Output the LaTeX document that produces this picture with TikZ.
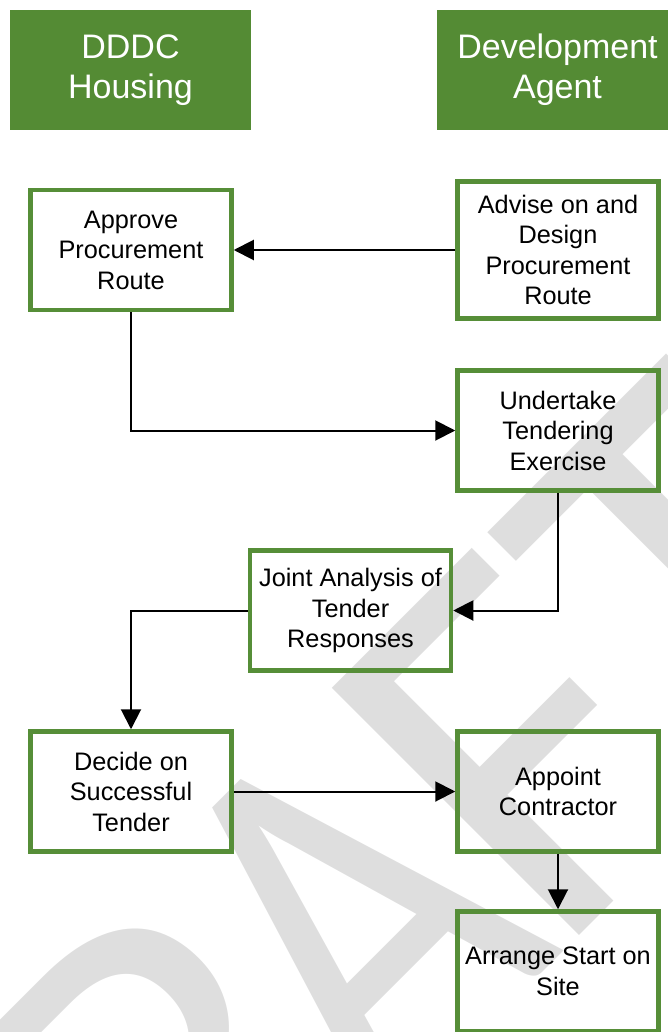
\documentclass[tikz,border=0pt]{standalone}
\usepackage{fontspec}
\setmainfont{Liberation Sans}
\newfontfamily\wmfont{Carlito}
\usetikzlibrary{arrows.meta}
\definecolor{hdrgreen}{RGB}{84,139,52}
\definecolor{boxgreen}{RGB}{86,142,56}
\definecolor{wmgray}{RGB}{222,222,222}
\begin{document}
\begin{tikzpicture}[x=1pt,y=-1pt,
  header/.style={fill=hdrgreen, draw=none, minimum width=241pt, minimum height=120pt,
    inner sep=0pt, text=white, align=center, font=\fontsize{34}{40}\selectfont},
  stepbox/.style={draw=boxgreen, line width=4.5pt, minimum width=201pt, minimum height=120pt,
    inner sep=0pt, align=center, font=\fontsize{25.3}{30.5}\selectfont},
  flow/.style={line width=2pt, draw=black, -{Triangle[length=20pt,width=20pt]}},
  watermark/.style={rotate=45, anchor=base west, inner sep=0pt, text=wmgray,
    font=\wmfont\fontsize{545}{545}\selectfont}]
\useasboundingbox (0,0) rectangle (668,1032);
\clip (0,0) rectangle (668,1032);
% watermark "DRAFT", letters set along a 45 degree baseline
\node[watermark] (wmD) at (-41.1,1556.1) {D};
\node[watermark] (wmR) at (195.8,1319.2) {R};
\node[watermark, anchor=base, xscale=0.82] (wmA) at (473.7,1041.3) {A};
\node[watermark] (wmF) at (553.6,961.4) {F};
\node[watermark] (wmT) at (730.4,784.6) {T};
\node[header] (hdd) at (130.5,70) {DDDC\\Housing};
\node[header] (hda) at (557.5,70) {Development\\Agent};
\node[stepbox] (app) at (131,250) {Approve\\Procurement\\Route};
\node[stepbox, minimum height=137pt] (adv) at (558,250) {Advise on and\\Design\\Procurement\\Route};
\node[stepbox] (und) at (558,430.5) {Undertake\\Tendering\\Exercise};
\node[stepbox] (joi) at (350.5,610.5) {Joint Analysis of\\Tender\\Responses};
\node[stepbox] (dec) at (131,791.5) {Decide on\\Successful\\Tender};
\node[stepbox] (apt) at (558,791.5) {Appoint\\Contractor};
\node[stepbox] (arr) at (558,971.5) {Arrange Start on\\Site};
\draw[flow] (adv.west) -- (app.east);
\draw[flow] (app.south) |- (und.west);
\draw[flow] (und.south) |- (joi.east);
\draw[flow] (joi.west) -| (dec.north);
\draw[flow] (dec.east) -- (apt.west);
\draw[flow] (apt.south) -- (arr.north);
\end{tikzpicture}
\end{document}
